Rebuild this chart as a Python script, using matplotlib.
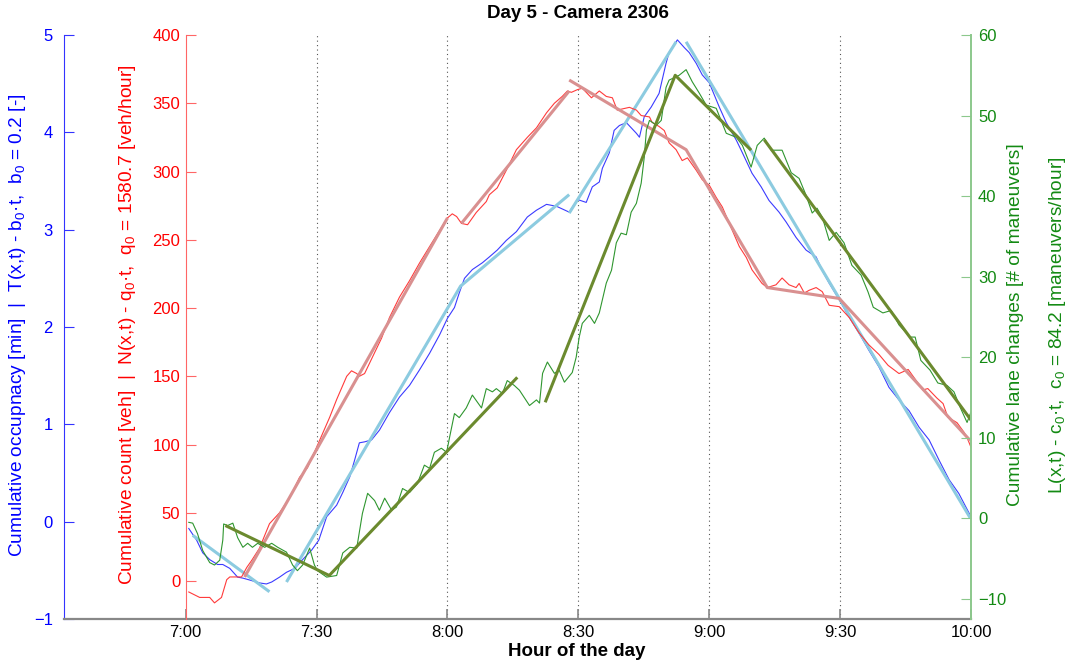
import numpy as np
import matplotlib
matplotlib.use('Agg')
import matplotlib.pyplot as plt

plt.rcParams['font.family'] = ['Liberation Sans', 'DejaVu Sans']
plt.rcParams['mathtext.fontset'] = 'custom'
plt.rcParams['mathtext.rm'] = 'Liberation Sans'
plt.rcParams['mathtext.default'] = 'regular'

# time in minutes after 7:00
tick_pos = [0, 30, 60, 90, 120, 150, 180]
tick_lab = ['7:00', '7:30', '8:00', '8:30', '9:00', '9:30', '10:00']

# cumulative count (red axis), (minute, veh)
red_raw = [(0.7,-8),(3.2,-12),(5.5,-12),(6.6,-16),(8.2,-12),(9.4,1),(10.1,3),(12.8,3),(14.0,10),
           (15.1,15),(16.9,24),(19.2,42),(21.5,50),(23.8,61),(26.1,76),(27.9,83),(30.0,98),(33.0,120),
           (34.6,133),(36.9,150),(38.0,154),(39.2,152),(39.8,150),(41.0,152),(42.8,164),(44.9,178),
           (46.7,193),(49.0,208),(51.3,220),(53.6,233),(55.9,245),(58.6,259),(60.0,266),(61.1,269),
           (62.1,267),(63.2,262),(64.6,261),(66.6,270),(68.9,278),(69.6,283),(71.4,288),(73.5,301),
           (75.8,316),(78.3,325),(80.4,332),(82.7,343),(84.5,350),(86.3,355),(87.5,359),(88.4,358),
           (89.8,360),(90.9,361),(93.0,354),(94.8,359),(96.4,355),(97.8,354),(98.9,345),(101.7,347),
           (103.3,345),(104.4,341),(106.3,340),(106.9,336),(108.5,333),(109.7,330),(110.8,321),
           (112.4,316),(113.8,308),(115.0,310),(117.0,301),(118.4,294),(120.0,290),(121.6,281),
           (123.0,274),(125.0,259),(126.9,245),(128.5,237),(129.8,228),(132.1,218),(133.3,215),
           (135.3,217),(136.7,222),(138.3,217),(139.9,215),(140.6,218),(141.8,211),(142.9,213),
           (144.5,215),(145.9,212),(147.5,202),(149.8,201),(152.1,193),(154.3,182),(156.6,173),
           (158.9,166),(161.0,158),(163.5,152),(165.6,155),(167.4,147),(169.0,140),(170.1,141),
           (172.2,134),(173.6,130),(174.7,120),(176.8,116),(178.4,109),(179.1,105),(180.0,98)]
red_fits = [[(13.5,3),(60.0,266)],
            [(63.2,262),(87.9,359)],
            [(87.9,367),(114.7,316),(133.3,215),(149.8,207),(179.8,103)]]

# cumulative occupancy (blue axis), (minute, min)
blue_raw = [(0.7,-0.07),(2.5,-0.19),(3.9,-0.32),(5.5,-0.39),(7.3,-0.44),(8.5,-0.44),(10.1,-0.48),
            (11.9,-0.57),(13.1,-0.58),(14.7,-0.60),(17.0,-0.63),(18.5,-0.64),(19.7,-0.62),(21.5,-0.57),
            (23.1,-0.52),(25.0,-0.48),(26.8,-0.39),(28.9,-0.29),(30.5,-0.19),(32.3,0.05),(34.6,0.17),
            (36.0,0.30),(37.6,0.46),(38.7,0.63),(39.8,0.81),(41.0,0.82),(42.6,0.84),(44.4,0.94),
            (46.7,1.12),(49.0,1.28),(51.3,1.40),(53.6,1.56),(55.9,1.73),(58.2,1.92),(60.0,2.09),
            (61.6,2.20),(62.7,2.35),(63.9,2.50),(65.7,2.59),(68.0,2.66),(69.6,2.72),(71.4,2.79),
            (73.5,2.89),(75.8,2.98),(78.3,3.13),(80.4,3.20),(82.7,3.26),(85.0,3.24),(87.9,3.18),
            (89.8,3.31),(91.8,3.28),(93.2,3.44),(94.8,3.49),(95.5,3.63),(97.1,3.79),(98.2,4.02),
            (99.4,4.07),(101.0,4.10),(103.3,3.99),(104.0,3.95),(105.1,4.16),(106.7,4.26),(108.5,4.40),
            (110.1,4.71),(110.8,4.82),(112.7,4.95),(114.3,4.87),(115.4,4.82),(117.0,4.71),(118.4,4.59),
            (120.0,4.51),(122.3,4.26),(123.9,4.10),(126.2,3.92),(127.6,3.79),(129.8,3.58),(131.9,3.44),
            (133.7,3.30),(136.0,3.18),(137.6,3.08),(139.9,2.92),(142.2,2.79),(144.5,2.72),(145.9,2.58),
            (147.5,2.45),(149.8,2.28),(152.1,2.10),(154.3,1.94),(156.6,1.76),(158.9,1.59),(161.2,1.38),
            (163.5,1.25),(165.8,1.14),(168.1,0.97),(170.4,0.84),(172.7,0.63),(175.0,0.43),(177.2,0.29),
            (180.0,0.05)]
blue_fits = [[(1.6,-0.14),(19.2,-0.72)],
             [(23.1,-0.62),(63.0,2.42),(87.9,3.36)],
             [(87.9,3.17),(112.4,4.93)],
             [(114.7,4.93),(179.8,0.04)]]

# cumulative lane changes (green axis), (minute, maneuvers)
green_raw = [(0.7,-0.5),(1.6,-0.6),(2.7,-1.9),(3.9,-4.0),(5.5,-5.5),(6.6,-5.8),(7.8,-5.2),(8.5,-2.7),
             (8.7,-0.7),(9.6,-0.9),(10.8,-0.6),(11.9,-2.4),(13.1,-3.6),(14.2,-3.1),(15.3,-3.6),(16.5,-3.1),
             (18.1,-3.6),(19.7,-3.1),(21.1,-3.6),(23.1,-4.2),(24.5,-5.8),(25.6,-6.5),(26.8,-5.8),(28.4,-3.7),
             (29.5,-5.8),(30.2,-6.5),(32.3,-7.3),(34.6,-7.1),(36.0,-4.3),(37.6,-3.6),(39.2,-3.7),(40.5,0.6),
             (41.7,3.1),(43.3,2.2),(44.4,1.0),(45.6,2.5),(47.2,1.0),(48.3,1.4),(49.7,3.7),(51.3,3.2),
             (53.1,4.3),(54.7,6.6),(55.9,6.2),(57.0,8.2),(58.6,8.7),(59.8,8.2),(60.5,10.1),(61.6,13.0),
             (62.7,12.5),(64.3,13.7),(65.7,15.3),(67.8,13.7),(68.9,16.1),(70.3,15.7),(71.2,16.1),(72.6,15.5),
             (73.7,17.1),(75.3,16.5),(76.5,15.9),(78.8,14.0),(80.4,14.7),(81.1,14.3),(81.8,18.0),(82.9,19.4),
             (84.5,18.0),(85.6,18.4),(86.8,16.9),(88.6,18.1),(89.5,20.0),(90.2,22.5),(90.9,24.2),(92.5,25.2),
             (93.7,24.2),(94.8,25.5),(96.4,29.2),(97.6,30.8),(98.7,34.2),(99.8,35.4),(101.0,35.2),(102.1,38.0),
             (103.3,39.1),(104.4,41.6),(105.1,44.8),(105.6,48.2),(106.3,49.4),(107.9,48.8),(109.0,49.4),
             (110.1,53.5),(110.8,54.4),(113.1,55.0),(114.7,55.7),(116.1,54.2),(117.7,52.8),(119.3,51.3),
             (121.6,50.9),(123.9,47.8),(126.2,47.3),(127.6,46.3),(129.6,43.6),(131.0,46.3),(132.6,47.2),
             (134.2,45.7),(136.7,45.7),(138.8,42.9),(140.6,42.2),(142.2,40.1),(143.6,37.9),(144.7,38.5),
             (145.9,37.4),(147.5,34.5),(149.1,35.5),(150.9,34.2),(152.7,31.4),(154.8,30.2),(156.4,28.1),
             (157.6,26.2),(159.8,25.5),(161.7,25.8),(163.5,24.0),(166.0,22.5),(167.2,22.5),(168.5,19.6),
             (170.6,18.4),(172.4,16.8),(174.5,16.5),(176.1,15.7),(177.5,13.8),(179.1,11.9),(180.0,13.2)]
green_fits = [[(9.1,-0.9),(32.9,-7.1),(76.0,17.5)],
              [(82.4,14.4),(112.2,55.0),(129.6,45.7)],
              [(132.6,47.0),(180.0,12.2)]]

fig = plt.figure(figsize=(10.74, 6.67), dpi=100)
ax = fig.add_axes([64/1074, 1-619/667, 907/1074, 584/667])
ax.set_xlim(-27.9, 180)
ax.set_ylim(-1, 5)
ax.set_yticks(range(-1, 6))
ax.set_xticks(tick_pos)
ax.set_xticklabels(tick_lab)
for t in tick_pos[1:-1]:
    ax.axvline(t, color='#555555', ls=(0, (1, 3)), lw=0.8, zorder=0)
ax.spines['top'].set_visible(False)
ax.spines['right'].set_visible(False)
ax.spines['left'].set_color('#3333ff')
ax.spines['bottom'].set_color('#888888')
ax.spines['bottom'].set_linewidth(1.6)
ax.tick_params(axis='y', colors='blue', direction='in', length=7, pad=8, labelsize=12)
ax.tick_params(axis='y', which='both', color='#3333ff')
ax.tick_params(axis='x', direction='in', length=7, color='#888888', width=1.2, labelsize=12, pad=4)

b = np.array(blue_raw).T
ax.plot(b[0], b[1], color='#3b3bff', lw=0.8)
for seg in blue_fits:
    s = np.array(seg).T
    ax.plot(s[0], s[1], color='#8ccbe0', lw=2.2, solid_capstyle='butt')

axr = ax.twinx()
axr.yaxis.tick_left()
axr.set_ylim(-27.8, 400)
axr.set_yticks(range(0, 401, 50))
for sp in ['top', 'bottom', 'right']:
    axr.spines[sp].set_visible(False)
axr.spines['left'].set_visible(True)
axr.spines['left'].set_position(('data', 0))
axr.spines['left'].set_color('#ff6666')
axr.tick_params(axis='y', colors='red', direction='in', length=7, pad=4, labelsize=12)
axr.tick_params(axis='y', color='#ff6666')
r = np.array(red_raw).T
axr.plot(r[0], r[1], color='#ff3b3b', lw=0.8)
for seg in red_fits:
    s = np.array(seg).T
    axr.plot(s[0], s[1], color='#d99090', lw=2.2, solid_capstyle='butt')

axg = ax.twinx()
axg.set_ylim(-12.5, 60)
axg.set_yticks(range(-10, 61, 10))
for sp in ['top', 'bottom', 'left']:
    axg.spines[sp].set_visible(False)
axg.spines['right'].set_color('#8cc88c')
axg.spines['right'].set_linewidth(1.4)
axg.tick_params(axis='y', colors='#138a13', direction='in', length=7, pad=5, labelsize=12)
axg.tick_params(axis='y', color='#8cc88c')
g = np.array(green_raw).T
axg.plot(g[0], g[1], color='#2f962f', lw=0.8)
for seg in green_fits:
    s = np.array(seg).T
    axg.plot(s[0], s[1], color='#6b8a2e', lw=2.2, solid_capstyle='butt')

yc = 1 - 325/667
fig.text(18/1074, yc, 'Cumulative occupnacy [min]  |  T(x,t) - b$_0$·t,  b$_0$ = 0.2 [-]',
         rotation=90, ha='center', va='center', color='blue', fontsize=13.8)
fig.text(128/1074, yc, 'Cumulative count [veh]  |  N(x,t) - q$_0$·t,  q$_0$ = 1580.7 [veh/hour]',
         rotation=90, ha='center', va='center', color='red', fontsize=13.8)
fig.text(1016/1074, yc, 'Cumulative lane changes [# of maneuvers]',
         rotation=90, ha='center', va='center', color='#138a13', fontsize=13.8)
fig.text(1058/1074, yc, 'L(x,t) - c$_0$·t,  c$_0$ = 84.2 [maneuvers/hour]',
         rotation=90, ha='center', va='center', color='#138a13', fontsize=13.8)
fig.text(578/1074, 1 - 13/667, 'Day 5 - Camera 2306', ha='center', va='center',
         fontsize=13.5, fontweight='bold')
fig.text(577/1074, 1 - 651/667, 'Hour of the day', ha='center', va='center',
         fontsize=13.5, fontweight='bold')

fig.savefig('out.png', dpi=100)
